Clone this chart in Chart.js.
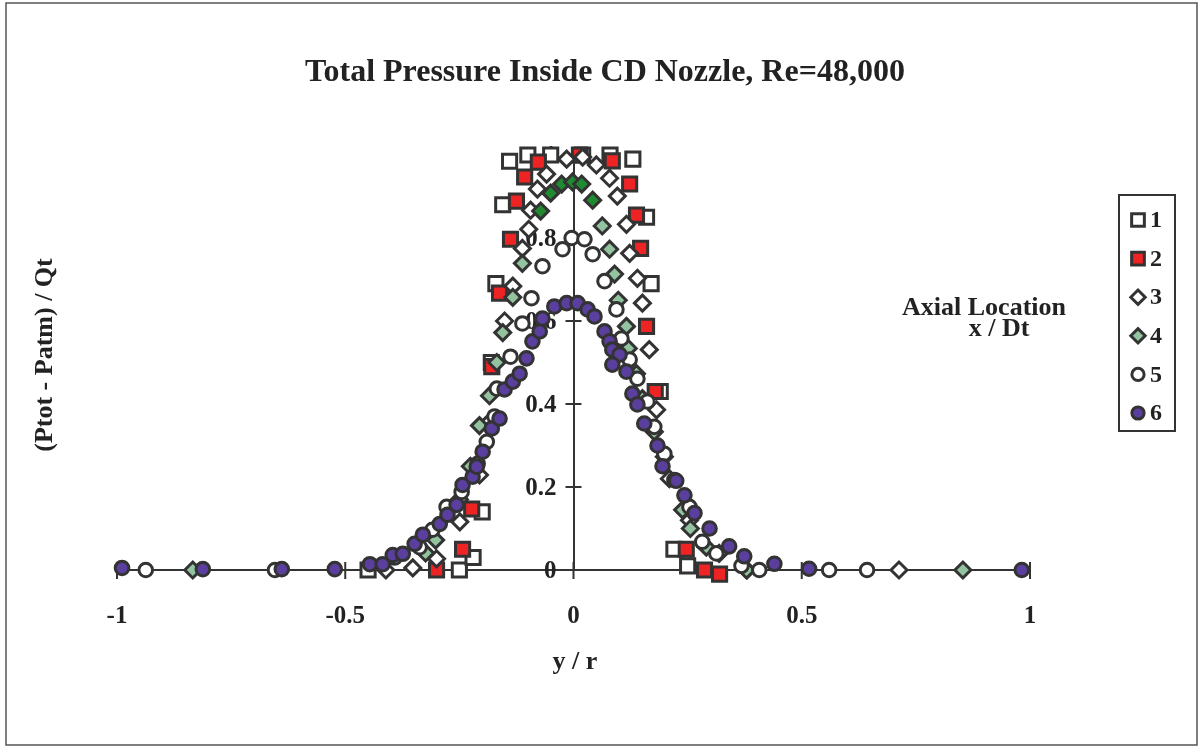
<!DOCTYPE html>
<html>
<head>
<meta charset="utf-8">
<title>Total Pressure Inside CD Nozzle</title>
<script src="https://cdn.jsdelivr.net/npm/chart.js@4.4.1/dist/chart.umd.min.js"></script>
<style>
  html, body { margin: 0; padding: 0; background: #fff; }
  #wrap { width: 1202px; height: 752px; }
</style>
</head>
<body>
<div id="wrap"><canvas id="nozzle" width="1202" height="752"></canvas></div>
<script>
// ---- axis ticks ----
const xTicks = [-1, -0.5, 0, 0.5, 1];
const yTicks = [0, 0.2, 0.4, 0.6, 0.8, 1];
const seriesNames = ["1", "2", "3", "4", "5", "6"];

// ---- axial location 1 (open squares) ----
const s1x = [-0.45, -0.25, -0.22, -0.20, -0.18, -0.17, -0.155, -0.14, -0.10, -0.05, 0.02, 0.08, 0.13, 0.16, 0.17, 0.19, 0.22, 0.25];
const s1y = [0, 0, 0.03, 0.14, 0.50, 0.69, 0.88, 0.985, 1.0, 1.0, 1.0, 1.0, 0.99, 0.85, 0.69, 0.43, 0.05, 0.01];

// ---- axial location 2 (red squares) ----
const s2x = [-0.30, -0.243, -0.223, -0.179, -0.162, -0.138, -0.125, -0.107, -0.077, 0.013, 0.085, 0.123, 0.138, 0.147, 0.160, 0.179, 0.247, 0.287, 0.32];
const s2y = [0, 0.05, 0.147, 0.49, 0.667, 0.797, 0.889, 0.947, 0.983, 1.0, 0.986, 0.93, 0.855, 0.775, 0.587, 0.43, 0.05, 0.0, -0.01];

// ---- axial location 3 (open diamonds) ----
const s3x = [-0.411, -0.352, -0.300, -0.249, -0.206, -0.184, -0.151, -0.133, -0.112, -0.098, -0.094, -0.079, -0.059, -0.015, 0.02, 0.050, 0.079, 0.096, 0.116, 0.123, 0.140, 0.151, 0.166, 0.182, 0.21, 0.254, 0.319, 0.38, 0.713];
const s3y = [0, 0.005, 0.027, 0.116, 0.229, 0.357, 0.60, 0.684, 0.775, 0.821, 0.867, 0.918, 0.954, 0.99, 0.995, 0.976, 0.944, 0.901, 0.833, 0.763, 0.703, 0.643, 0.531, 0.386, 0.22, 0.12, 0.04, 0, 0];

// ---- axial location 4 (green diamonds) ----
const s4x = [-0.834, -0.324, -0.302, -0.25, -0.226, -0.206, -0.184, -0.168, -0.155, -0.133, -0.112, -0.072, -0.050, -0.026, -0.002, 0.018, 0.042, 0.063, 0.079, 0.090, 0.098, 0.116, 0.120, 0.138, 0.151, 0.177, 0.199, 0.239, 0.256, 0.291, 0.379, 0.853];
const s4y = [0, 0.041, 0.072, 0.17, 0.25, 0.348, 0.42, 0.50, 0.572, 0.657, 0.739, 0.865, 0.908, 0.930, 0.935, 0.930, 0.891, 0.829, 0.773, 0.713, 0.650, 0.587, 0.534, 0.473, 0.413, 0.333, 0.273, 0.145, 0.10, 0.055, 0, 0];

// ---- axial location 5 (open circles) ----
const s5x = [-0.937, -0.654, -0.392, -0.337, -0.309, -0.278, -0.245, -0.210, -0.190, -0.173, -0.168, -0.138, -0.112, -0.092, -0.068, -0.024, -0.004, 0.024, 0.042, 0.068, 0.094, 0.105, 0.123, 0.140, 0.162, 0.177, 0.199, 0.221, 0.254, 0.282, 0.313, 0.368, 0.407, 0.56, 0.643];
const s5y = [0, 0, 0.03, 0.055, 0.097, 0.152, 0.188, 0.256, 0.309, 0.37, 0.437, 0.514, 0.594, 0.655, 0.732, 0.773, 0.80, 0.797, 0.761, 0.696, 0.628, 0.558, 0.507, 0.461, 0.406, 0.345, 0.28, 0.217, 0.152, 0.068, 0.04, 0.01, 0, 0, 0];

// ---- axial location 6 (purple circles) ----
const s6x = [-0.989, -0.812, -0.639, -0.523, -0.446, -0.418, -0.396, -0.374, -0.348, -0.330, -0.293, -0.276, -0.256, -0.243, -0.221, -0.212, -0.199, -0.179, -0.162, -0.151, -0.133, -0.118, -0.103, -0.090, -0.074, -0.068, -0.042, -0.015, 0.009, 0.031, 0.046, 0.068, 0.079, 0.085, 0.101, 0.085, 0.116, 0.129, 0.140, 0.155, 0.184, 0.195, 0.225, 0.243, 0.265, 0.298, 0.341, 0.374, 0.440, 0.516, 0.982];
const s6y = [0.005, 0.002, 0.002, 0.002, 0.014, 0.014, 0.036, 0.039, 0.063, 0.085, 0.111, 0.133, 0.157, 0.205, 0.225, 0.249, 0.285, 0.341, 0.365, 0.435, 0.454, 0.473, 0.510, 0.551, 0.575, 0.606, 0.635, 0.643, 0.643, 0.628, 0.611, 0.575, 0.551, 0.531, 0.519, 0.495, 0.478, 0.425, 0.399, 0.353, 0.30, 0.25, 0.215, 0.18, 0.137, 0.10, 0.057, 0.033, 0.015, 0.003, 0];

const INK = "#333333";
const FONT = "'Liberation Serif', 'DejaVu Serif', serif";

function pts(xs, ys) {
  return xs.map((x, i) => ({ x: x, y: ys[i] }));
}

const greenFill = ctx => (ctx.raw && ctx.raw.y > 0.85 ? "#1f8a30" : "#93c49f");

const datasets = [
  { label: seriesNames[0], data: pts(s1x, s1y), pointStyle: "rect", pointRadius: 10, backgroundColor: "#ffffff" },
  { label: seriesNames[1], data: pts(s2x, s2y), pointStyle: "rect", pointRadius: 10, backgroundColor: "#ee2424" },
  { label: seriesNames[2], data: pts(s3x, s3y), pointStyle: "rectRot", pointRadius: 8, backgroundColor: "#ffffff" },
  { label: seriesNames[3], data: pts(s4x, s4y), pointStyle: "rectRot", pointRadius: 8, backgroundColor: greenFill },
  { label: seriesNames[4], data: pts(s5x, s5y), pointStyle: "circle", pointRadius: 6.8, backgroundColor: "#ffffff" },
  { label: seriesNames[5], data: pts(s6x, s6y), pointStyle: "circle", pointRadius: 6.8, backgroundColor: "#5a3f9e" }
].map((d, i) => Object.assign(d, {
  borderColor: INK,
  borderWidth: 3,
  pointBorderWidth: 3,
  showLine: false,
  clip: false,
  order: 6 - i   // later series drawn on top, as in the original
}));

// tick marks crossing the axes, y labels left of the centre axis, texts, legend, frame
const decorations = {
  id: "decorations",
  beforeDatasetsDraw(chart) {
    const { ctx, scales: { x, y } } = chart;
    const x0 = x.getPixelForValue(0);
    const y0 = y.getPixelForValue(0);
    ctx.save();
    ctx.strokeStyle = INK;
    ctx.lineWidth = 2;
    ctx.beginPath();
    y.ticks.forEach(t => {
      const py = y.getPixelForValue(t.value);
      ctx.moveTo(x0 - 8, py);
      ctx.lineTo(x0 + 8, py);
    });
    x.ticks.forEach(t => {
      const px = x.getPixelForValue(t.value);
      ctx.moveTo(px, y0 - 8);
      ctx.lineTo(px, y0 + 9);
    });
    ctx.stroke();

    ctx.fillStyle = "#222";
    ctx.font = "bold 25px " + FONT;
    ctx.textAlign = "right";
    ctx.textBaseline = "middle";
    y.ticks.forEach(t => {
      ctx.fillText(String(t.value), x0 - 17, y.getPixelForValue(t.value) + 2);
    });
    ctx.restore();
  },
  afterDraw(chart) {
    const { ctx } = chart;
    ctx.save();
    ctx.fillStyle = "#222";
    ctx.textBaseline = "middle";
    ctx.textAlign = "center";

    ctx.font = "bold 32px " + FONT;
    ctx.fillText("Total Pressure Inside CD Nozzle, Re=48,000", 605, 73);

    ctx.font = "bold 26px " + FONT;
    ctx.fillText("y / r", 575, 662);
    ctx.fillText("Axial Location", 984, 308);
    ctx.fillText("x / Dt", 999, 329);

    ctx.save();
    ctx.translate(45, 355);
    ctx.rotate(-Math.PI / 2);
    ctx.fillText("(Ptot - Patm) / Qt", 0, 0);
    ctx.restore();

    // legend box
    ctx.strokeStyle = INK;
    ctx.lineWidth = 2;
    ctx.strokeRect(1119, 195, 56, 236);
    chart.data.datasets.forEach((ds, i) => {
      const cy = 220 + i * 38.6;
      const fill = typeof ds.backgroundColor === "function" ? "#93c49f" : ds.backgroundColor;
      ctx.fillStyle = fill;
      ctx.strokeStyle = INK;
      ctx.lineWidth = 3;
      Chart.helpers.drawPoint(ctx, {
        pointStyle: ds.pointStyle,
        radius: ds.pointRadius * 0.9,
        rotation: 0,
        borderWidth: 3
      }, 1138, cy);
      ctx.fillStyle = "#222";
      ctx.font = "bold 24px " + FONT;
      ctx.textAlign = "left";
      ctx.fillText(ds.label, 1150, cy + 1);
    });

    // outer frame
    ctx.strokeStyle = "#555";
    ctx.lineWidth = 1.5;
    ctx.strokeRect(6, 3, 1191, 742);
    ctx.restore();
  }
};

new Chart(document.getElementById("nozzle"), {
  type: "scatter",
  data: { datasets: datasets },
  options: {
    responsive: false,
    animation: false,
    events: [],
    layout: { padding: { left: 117, right: 172, top: 155, bottom: 122 } },
    plugins: {
      legend: { display: false },
      tooltip: { enabled: false }
    },
    scales: {
      x: {
        type: "linear",
        position: "bottom",
        min: -1,
        max: 1,
        afterBuildTicks: s => { s.ticks = xTicks.map(v => ({ value: v })); },
        afterFit: s => { s.height = 60; },
        grid: { display: false, drawTicks: false },
        border: { display: true, color: INK, width: 2 },
        ticks: {
          padding: 32,
          color: "#222",
          callback: v => String(v),
          font: { family: FONT, size: 25, weight: "bold" }
        }
      },
      y: {
        type: "linear",
        position: { x: 0 },
        min: 0,
        max: 1,
        afterBuildTicks: s => { s.ticks = yTicks.map(v => ({ value: v })); },
        grid: { display: false, drawTicks: false },
        border: { display: true, color: INK, width: 2 },
        ticks: { display: false }
      }
    }
  },
  plugins: [decorations]
});
</script>
</body>
</html>
